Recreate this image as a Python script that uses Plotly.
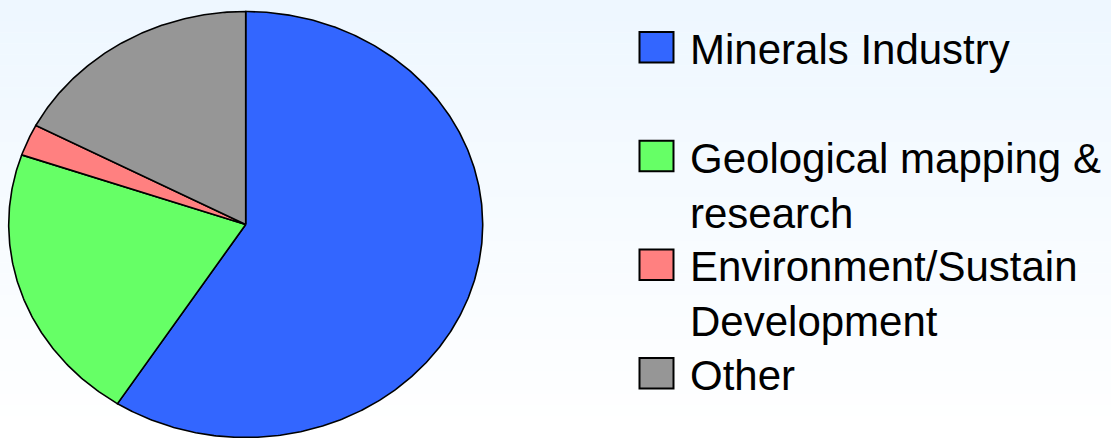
import numpy as np
import plotly.graph_objects as go

# ---- data ----
categories = ["Minerals Industry", "Geological mapping &<br>research",
              "Environment/Sustain<br>Development", "Other"]
values = [59.1, 21.2, 2.4, 17.3]
colors = ["#3366ff", "#66ff66", "#ff8080", "#969696"]

W, H = 1111, 438
cx, cy = 245.7, 224.5      # pie centre (px)
rx, ry = 237.0, 213.0      # ellipse radii (px)

fig = go.Figure()

# elliptical pie drawn on data axes, slices clockwise from 12 o'clock
total = sum(values)
start = 0.0
for cat, v, col in zip(categories, values, colors):
    a0 = start / total * 2 * np.pi
    a1 = (start + v) / total * 2 * np.pi
    t = np.linspace(a0, a1, max(int((a1 - a0) / (2 * np.pi) * 720), 4))
    xs = np.concatenate([[0], np.sin(t), [0]])
    ys = np.concatenate([[0], np.cos(t), [0]])
    fig.add_trace(go.Scatter(x=xs, y=ys, mode="lines", fill="toself",
                             fillcolor=col, line=dict(color="black", width=1.6),
                             name=cat.replace("<br>", " "), showlegend=False,
                             hoverinfo="name"))
    start += v

# background gradient (light blue at top to white at bottom)
shapes = []
n = 40
for i in range(n):
    f = i / (n - 1)
    r = int(round(238 + (255 - 238) * f))
    g = int(round(247 + (255 - 247) * f))
    shapes.append(dict(type="rect", xref="paper", yref="paper", layer="below",
                       x0=0, x1=1, y0=1 - (i + 1) / n, y1=1 - i / n + 0.001,
                       fillcolor=f"rgb({r},{g},255)", line=dict(width=0)))

# manual legend
annotations = []
step = 108.7
for i, (cat, col) in enumerate(zip(categories, colors)):
    top = 32.0 + step * i
    shapes.append(dict(type="rect", xref="paper", yref="paper", layer="above",
                       x0=639.5 / W, x1=673.5 / W,
                       y0=1 - (top + 30.5) / H, y1=1 - top / H,
                       fillcolor=col, line=dict(color="black", width=2)))
    annotations.append(dict(xref="paper", yref="paper", x=688 / W,
                            y=1 - (top - 8) / H, xanchor="left", yanchor="top",
                            align="left", showarrow=False, text=cat,
                            font=dict(family="Liberation Sans, Arial", size=42,
                                      color="black")))

fig.update_layout(
    width=W, height=H,
    margin=dict(l=0, r=0, t=0, b=0),
    paper_bgcolor="white", plot_bgcolor="rgba(0,0,0,0)",
    xaxis=dict(range=[-cx / rx, (W - cx) / rx], visible=False, fixedrange=True),
    yaxis=dict(range=[-(H - cy) / ry, cy / ry], visible=False, fixedrange=True),
    shapes=shapes, annotations=annotations, showlegend=False,
)

fig.write_html("out.html")
